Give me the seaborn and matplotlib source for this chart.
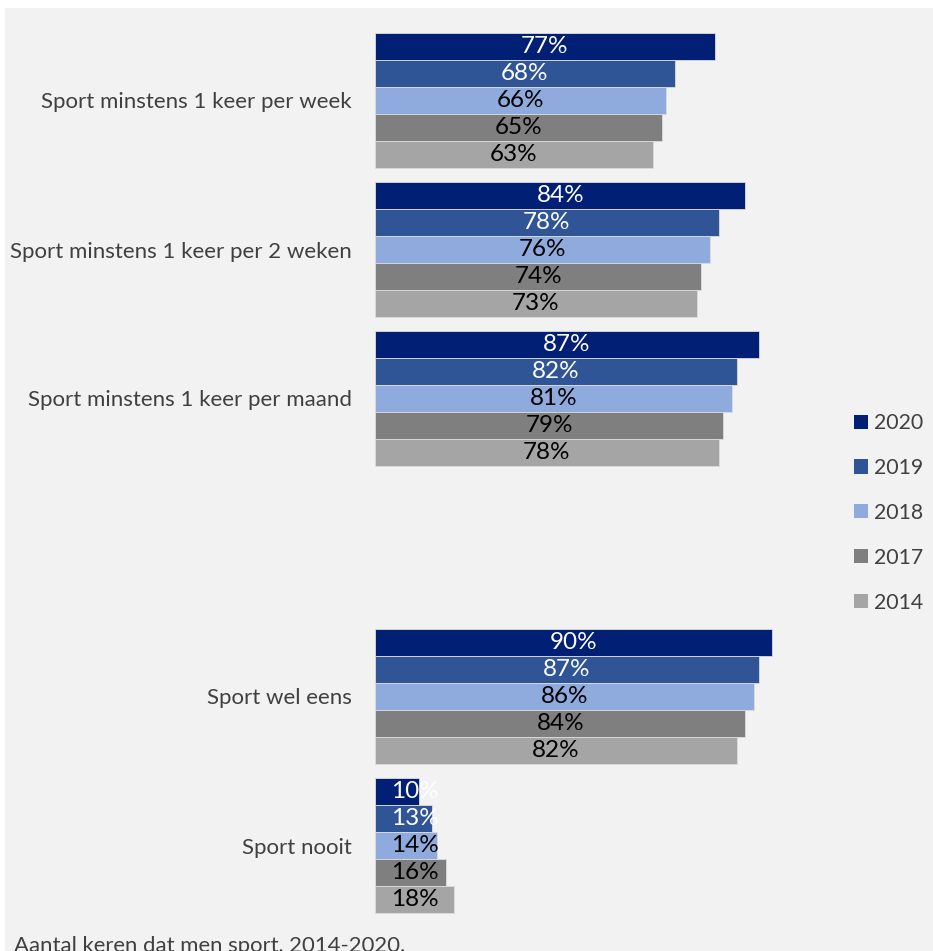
import matplotlib
matplotlib.use("Agg")
import matplotlib.pyplot as plt
from matplotlib.patches import Rectangle
import seaborn as sns
import pandas as pd

# Categories (an empty slot separates the frequency rows from the yes/no rows)
categories = [
    "Sport minstens 1 keer per week",
    "Sport minstens 1 keer per 2 weken",
    "Sport minstens 1 keer per maand",
    "",
    "Sport wel eens",
    "Sport nooit",
]
years = ["2020", "2019", "2018", "2017", "2014"]

# Percentages per year, one list per category with data
week = [77, 68, 66, 65, 63]
twee_weken = [84, 78, 76, 74, 73]
maand = [87, 82, 81, 79, 78]
wel_eens = [90, 87, 86, 84, 82]
nooit = [10, 13, 14, 16, 18]

series = {
    categories[0]: week,
    categories[1]: twee_weken,
    categories[2]: maand,
    categories[4]: wel_eens,
    categories[5]: nooit,
}

rows = []
for cat, vals in series.items():
    for yr, v in zip(years, vals):
        rows.append({"categorie": cat, "jaar": yr, "pct": v})
df = pd.DataFrame(rows)

palette = {
    "2020": "#001f75",
    "2019": "#2f5597",
    "2018": "#8faadc",
    "2017": "#7f7f7f",
    "2014": "#a5a5a5",
}
label_colors = {"2020": "white", "2019": "white", "2018": "black",
                "2017": "black", "2014": "black"}

sns.set_theme(style="white")
plt.rcParams["font.family"] = ["Lato", "DejaVu Sans"]

W, H = 933, 951
fig = plt.figure(figsize=(W / 100, H / 100), dpi=100)
fig.patch.set_facecolor("white")
fig.patches.append(Rectangle((5 / W, 0), 1 - 5 / W, 1 - 8 / H,
                             transform=fig.transFigure, facecolor="#f2f2f2",
                             edgecolor="none", zorder=-10))

left_px, px_per_unit = 375, 4.41
ax_w = 100 * px_per_unit
top_px, step = 26, 149
ax_h = 6 * step
ax = fig.add_axes([left_px / W, (H - top_px - ax_h) / H, ax_w / W, ax_h / H])
ax.set_facecolor("none")

sns.barplot(data=df, y="categorie", x="pct", hue="jaar", order=categories,
            hue_order=years, palette=palette, orient="h", width=0.906,
            gap=0, saturation=1, edgecolor="#dcdcdc", linewidth=0.6,
            errorbar=None, ax=ax)

ax.set_xlim(0, 100)
ax.set_ylim(5.5, -0.5)
ax.set_xlabel("")
ax.set_ylabel("")
ax.set_xticks([])
for s in ax.spines.values():
    s.set_visible(False)
ax.tick_params(axis="y", length=0, pad=16.5, labelsize=16, labelcolor="#404040")

# Value labels centred on the bars (kept readable on very short bars)
for cont, yr in zip(ax.containers, years):
    for bar in cont:
        v = bar.get_width()
        if v != v or v == 0:
            continue
        yc = bar.get_y() + bar.get_height() / 2
        ax.text(max(v / 2, 9), yc, f"{v:.0f}%", ha="center", va="center",
                fontsize=17.5, color=label_colors[yr])

handles, labels = ax.get_legend_handles_labels()
leg = ax.legend(handles, labels, loc="upper left",
                bbox_to_anchor=(835 / W, 1 - 394 / H),
                bbox_transform=fig.transFigure, frameon=False,
                fontsize=15.3, handlelength=0.65, handleheight=0.65,
                handletextpad=0.3, labelspacing=1.17, labelcolor="#404040")
for h in leg.legend_handles:
    h.set_edgecolor("none")

fig.text(14 / W, -1 / H, "Aantal keren dat men sport, 2014-2020.",
         ha="left", va="baseline", fontsize=15.9, color="#404040")

fig.savefig("out.png", dpi=100, facecolor=fig.get_facecolor())
